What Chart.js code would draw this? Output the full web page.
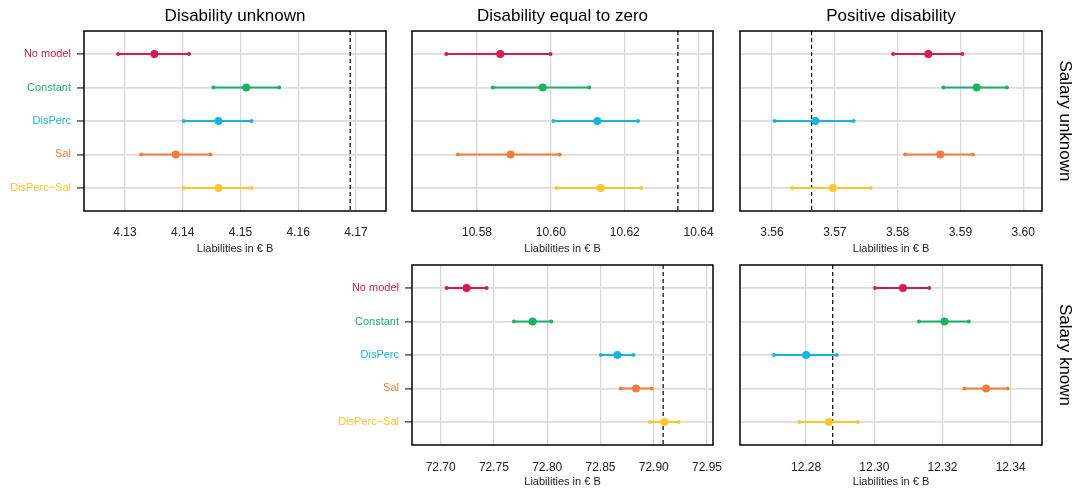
<!DOCTYPE html>
<html>
<head>
<meta charset="utf-8">
<script src="https://cdn.jsdelivr.net/npm/chart.js@4.4.1/dist/chart.umd.min.js"></script>
<style>
  html, body { margin: 0; padding: 0; background: #fff; }
  #fig { position: relative; width: 1080px; height: 490px; overflow: hidden; }
  #fig canvas { position: absolute; }
</style>
</head>
<body>
<div id="fig">
  <canvas id="p1" width="416" height="260" style="left:0px;top:0px"></canvas>
  <canvas id="p2" width="415" height="260" style="left:328px;top:0px"></canvas>
  <canvas id="p3" width="424" height="260" style="left:656px;top:0px"></canvas>
  <canvas id="p4" width="415" height="256" style="left:328px;top:234px"></canvas>
  <canvas id="p5" width="424" height="256" style="left:656px;top:234px"></canvas>
</div>
<script>
// ---- data ----
const models = ['No model', 'Constant', 'DisPerc', 'Sal', 'DisPerc\u2212Sal'];
const colTitles = ['Disability unknown', 'Disability equal to zero', 'Positive disability'];
const rowTitles = ['Salary unknown', 'Salary known'];
const axisTitle = 'Liabilities in \u20ac B';

// salary unknown / disability unknown
const loSuDu  = [4.1288, 4.1453, 4.1402, 4.1328, 4.1402];
const midSuDu = [4.1351, 4.1510, 4.1462, 4.1388, 4.1462];
const hiSuDu  = [4.1411, 4.1567, 4.1519, 4.1448, 4.1519];
const refSuDu = 4.1690;

// salary unknown / disability equal to zero
const loSuDz  = [10.5717, 10.5843, 10.6007, 10.5748, 10.6016];
const midSuDz = [10.5863, 10.5978, 10.6126, 10.5891, 10.6135];
const hiSuDz  = [10.5999, 10.6104, 10.6236, 10.6024, 10.6244];
const refSuDz = 10.6344;

// salary unknown / positive disability
const loSuDp  = [3.5793, 3.5873, 3.5604, 3.5812, 3.5632];
const midSuDp = [3.5849, 3.5926, 3.5669, 3.5868, 3.5697];
const hiSuDp  = [3.5903, 3.5974, 3.5730, 3.5920, 3.5757];
const refSuDp = 3.5663;

// salary known / disability equal to zero
const loSkDz  = [72.7056, 72.7688, 72.8503, 72.8691, 72.8963];
const midSkDz = [72.7244, 72.7863, 72.8659, 72.8834, 72.9100];
const hiSkDz  = [72.7431, 72.8038, 72.8809, 72.8981, 72.9234];
const refSkDz = 72.9088;

// salary known / positive disability
const loSkDp  = [12.3002, 12.3131, 12.2706, 12.3264, 12.2780];
const midSkDp = [12.3084, 12.3206, 12.2800, 12.3328, 12.2867];
const hiSkDp  = [12.3161, 12.3277, 12.2890, 12.3391, 12.2952];
const refSkDp = 12.2878;

// ---- styling ----
const modelColors = ['#D81B4A', '#1DB263', '#18B4E0', '#F27C3A', '#FDC62E'];
Chart.defaults.font.family = "'Liberation Sans', Arial, sans-serif";

// dashed reference line + black panel frame
const panelDecor = {
    id: 'panelDecor',
    beforeDatasetsDraw(chart, args, opts) {
        const {ctx, chartArea: a} = chart;
        const px = chart.scales.x.getPixelForValue(opts.ref);
        ctx.save();
        ctx.beginPath();
        ctx.setLineDash([4, 3]);
        ctx.lineWidth = 1.2;
        ctx.strokeStyle = '#000';
        ctx.moveTo(px, a.top);
        ctx.lineTo(px, a.bottom);
        ctx.stroke();
        ctx.restore();
    },
    afterDatasetsDraw(chart) {
        const {ctx, chartArea: a} = chart;
        ctx.save();
        ctx.lineWidth = 1.5;
        ctx.strokeStyle = '#000';
        ctx.strokeRect(a.left, a.top, a.width, a.height);
        ctx.restore();
    }
};

const panels = [
    { id: 'p1', row: 0, lo: loSuDu, mid: midSuDu, hi: hiSuDu, ref: refSuDu, title: colTitles[0], labels: true,  strip: null,         xMin: 4.1229,  xMax: 4.1752,  step: 0.01 },
    { id: 'p2', row: 0, lo: loSuDz, mid: midSuDz, hi: hiSuDz, ref: refSuDz, title: colTitles[1], labels: false, strip: null,         xMin: 10.5624, xMax: 10.6439, step: 0.02 },
    { id: 'p3', row: 0, lo: loSuDp, mid: midSuDp, hi: hiSuDp, ref: refSuDp, title: colTitles[2], labels: false, strip: rowTitles[0], xMin: 3.5549,  xMax: 3.6030,  step: 0.01 },
    { id: 'p4', row: 1, lo: loSkDz, mid: midSkDz, hi: hiSkDz, ref: refSkDz, title: '',           labels: true,  strip: null,         xMin: 72.6731, xMax: 72.9556, step: 0.05 },
    { id: 'p5', row: 1, lo: loSkDp, mid: midSkDp, hi: hiSkDp, ref: refSkDp, title: '',           labels: false, strip: rowTitles[1], xMin: 12.2606, xMax: 12.3492, step: 0.02 }
];

function makePanel(p) {
    const top = p.row === 0;
    const scales = {
        x: {
            type: 'linear', position: 'bottom', min: p.xMin, max: p.xMax,
            afterFit: (s) => { s.height = top ? 49 : 45; },
            ticks: {
                stepSize: p.step, includeBounds: false, autoSkip: false, maxRotation: 0,
                padding: top ? 14 : 15, color: '#222', font: { size: 12 },
                callback: (v) => v.toFixed(2)
            },
            grid: { color: '#d9d9d9', lineWidth: 1.3, drawTicks: false },
            border: { display: false },
            title: {
                display: true, text: axisTitle, color: '#222', font: { size: 11 },
                padding: { top: 0, bottom: top ? 4.4 : 1.4 }
            }
        },
        y: {
            type: 'linear', position: 'left', min: 0.31, max: 5.69, reverse: true,
            afterFit: (s) => { s.width = 84; },
            ticks: {
                display: p.labels, stepSize: 1, includeBounds: false, padding: 6,
                font: { size: 11 },
                color: (c) => modelColors[c.tick.value - 1],
                callback: (v) => models[v - 1]
            },
            grid: { color: '#dcdcdc', lineWidth: 1.8, drawTicks: p.labels, tickLength: 7, tickColor: '#555', tickWidth: 1.5 },
            border: { display: false }
        }
    };
    if (p.strip) {
        scales.strip = {
            type: 'linear', position: 'right', min: 0, max: 1,
            afterFit: (s) => { s.width = 38; },
            ticks: { display: false },
            grid: { display: false },
            border: { display: false },
            title: { display: true, text: p.strip, color: '#000', font: { size: 17 }, padding: { top: 5, bottom: 0 } }
        };
    }

    return new Chart(document.getElementById(p.id), {
        type: 'scatter',
        data: {
            datasets: models.map((m, i) => ({
                label: m,
                data: [
                    { x: p.lo[i], y: i + 1 },
                    { x: p.mid[i], y: i + 1 },
                    { x: p.hi[i], y: i + 1 }
                ],
                showLine: true,
                borderColor: modelColors[i],
                backgroundColor: modelColors[i],
                pointBackgroundColor: modelColors[i],
                borderWidth: 2,
                pointRadius: [2, 4, 2],
                pointHoverRadius: [2, 4, 2],
                pointBorderWidth: 0
            }))
        },
        options: {
            responsive: false,
            animation: false,
            layout: { padding: { top: top ? 0 : 31, right: p.strip ? 0 : 30, left: 0, bottom: 0 } },
            plugins: {
                legend: { display: false },
                tooltip: { enabled: false },
                title: {
                    display: top, text: p.title, fullSize: false, color: '#000',
                    font: { size: 17, weight: 'normal', lineHeight: 1.2 },
                    padding: { top: 6, bottom: 4.6 }
                },
                panelDecor: { ref: p.ref }
            },
            scales
        },
        plugins: [panelDecor]
    });
}

panels.forEach(makePanel);
</script>
</body>
</html>
